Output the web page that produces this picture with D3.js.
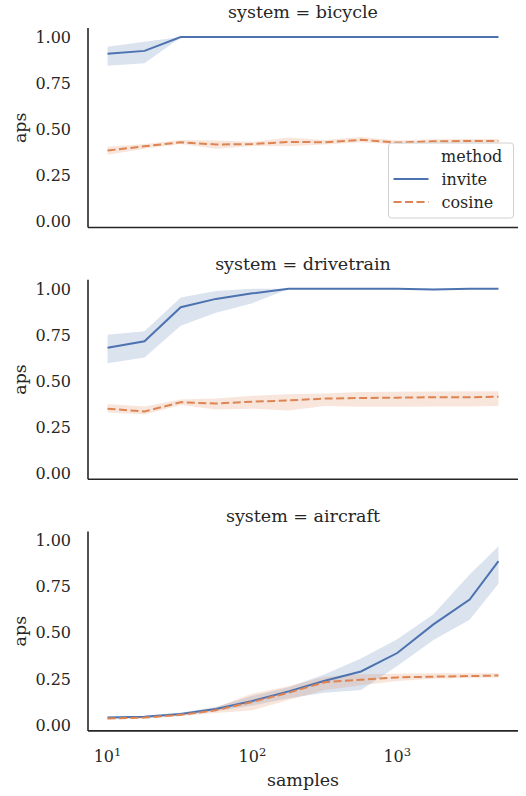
<!DOCTYPE html>
<html>
<head>
<meta charset="utf-8">
<script src="https://cdn.jsdelivr.net/npm/d3@7/dist/d3.min.js"></script>
<style>
  html, body { margin: 0; padding: 0; background: #fff; }
  svg text { font-family: "DejaVu Serif", serif; fill: #262626; }
</style>
</head>
<body>
<div id="chart"></div>
<script>
/* --- data ---------------------------------------------------------------- */
const systems = ['bicycle', 'drivetrain', 'aircraft'];
const methods = ['invite', 'cosine'];
const samples = [10, 18, 32, 56, 100, 178, 316, 562, 1000, 1778, 3162, 5000];

const bicycleInvite   = [0.910, 0.925, 1.000, 1.000, 1.000, 1.000, 1.000, 1.000, 1.000, 1.000, 1.000, 1.000];
const bicycleInviteLo = [0.845, 0.858, 0.998, 0.999, 0.999, 0.999, 0.999, 0.999, 0.999, 0.999, 0.999, 0.999];
const bicycleInviteHi = [0.948, 0.975, 1.000, 1.000, 1.000, 1.000, 1.000, 1.000, 1.000, 1.000, 1.000, 1.000];
const bicycleCosine   = [0.385, 0.408, 0.430, 0.418, 0.420, 0.432, 0.430, 0.443, 0.428, 0.435, 0.437, 0.437];
const bicycleCosineLo = [0.362, 0.395, 0.420, 0.395, 0.410, 0.408, 0.418, 0.430, 0.418, 0.425, 0.427, 0.427];
const bicycleCosineHi = [0.405, 0.420, 0.442, 0.440, 0.432, 0.455, 0.442, 0.458, 0.440, 0.446, 0.448, 0.448];

const drivetrainInvite   = [0.680, 0.715, 0.900, 0.945, 0.975, 1.000, 1.000, 1.000, 1.000, 0.996, 1.000, 1.000];
const drivetrainInviteLo = [0.596, 0.628, 0.800, 0.870, 0.922, 0.998, 0.999, 0.999, 0.999, 0.992, 0.999, 0.999];
const drivetrainInviteHi = [0.751, 0.769, 0.953, 0.988, 1.000, 1.000, 1.000, 1.000, 1.000, 1.000, 1.000, 1.000];
const drivetrainCosine   = [0.350, 0.335, 0.385, 0.378, 0.388, 0.395, 0.405, 0.408, 0.410, 0.412, 0.412, 0.415];
const drivetrainCosineLo = [0.330, 0.318, 0.370, 0.345, 0.350, 0.340, 0.365, 0.360, 0.360, 0.362, 0.362, 0.365];
const drivetrainCosineHi = [0.375, 0.362, 0.400, 0.405, 0.420, 0.428, 0.432, 0.440, 0.442, 0.443, 0.444, 0.445];

const aircraftInvite   = [0.040, 0.045, 0.060, 0.087, 0.130, 0.182, 0.240, 0.290, 0.390, 0.545, 0.680, 0.888];
const aircraftInviteLo = [0.035, 0.040, 0.052, 0.075, 0.105, 0.145, 0.175, 0.190, 0.320, 0.460, 0.570, 0.765];
const aircraftInviteHi = [0.045, 0.050, 0.068, 0.098, 0.158, 0.205, 0.275, 0.360, 0.465, 0.600, 0.815, 0.968];
const aircraftCosine   = [0.035, 0.040, 0.055, 0.080, 0.125, 0.175, 0.232, 0.245, 0.258, 0.262, 0.265, 0.268];
const aircraftCosineLo = [0.030, 0.035, 0.048, 0.065, 0.080, 0.135, 0.190, 0.215, 0.238, 0.250, 0.255, 0.258];
const aircraftCosineHi = [0.040, 0.046, 0.062, 0.095, 0.170, 0.210, 0.262, 0.275, 0.278, 0.280, 0.280, 0.280];

const yTicks = [0, 0.25, 0.5, 0.75, 1.0];
const xTicks = [10, 100, 1000];

const series = {
  bicycle:    { invite: [bicycleInvite, bicycleInviteLo, bicycleInviteHi],
                cosine: [bicycleCosine, bicycleCosineLo, bicycleCosineHi] },
  drivetrain: { invite: [drivetrainInvite, drivetrainInviteLo, drivetrainInviteHi],
                cosine: [drivetrainCosine, drivetrainCosineLo, drivetrainCosineHi] },
  aircraft:   { invite: [aircraftInvite, aircraftInviteLo, aircraftInviteHi],
                cosine: [aircraftCosine, aircraftCosineLo, aircraftCosineHi] }
};

/* --- layout -------------------------------------------------------------- */
const W = 526, H = 796;
const left = 88, right = 518;
const panelTop = [28, 279.7, 531.4];
const panelH = 199.5;
const color = { invite: '#4c72b0', cosine: '#dd8452' };
const dash  = { invite: null, cosine: '8,3.5' };
const ink = '#262626';
const tickSize = 16, labelSize = 17.5;

const svg = d3.select('#chart').append('svg')
  .attr('width', W).attr('height', H);

const x = d3.scaleLog().domain([7.33, 6820]).range([left, right]);

systems.forEach(function (sys, i) {
  const top = panelTop[i];
  const y = d3.scaleLinear().domain([-0.032, 1.049]).range([top + panelH, top]);
  const g = svg.append('g');

  /* bands + lines */
  methods.forEach(function (m) {
    const [mean, lo, hi] = series[sys][m];
    const rows = samples.map(function (s, k) { return { s: s, m: mean[k], lo: lo[k], hi: hi[k] }; });
    g.append('path').datum(rows)
      .attr('fill', color[m]).attr('fill-opacity', 0.2).attr('stroke', 'none')
      .attr('d', d3.area().x(function (d) { return x(d.s); })
        .y0(function (d) { return y(d.lo); }).y1(function (d) { return y(d.hi); }));
  });
  methods.forEach(function (m) {
    const mean = series[sys][m][0];
    const rows = samples.map(function (s, k) { return { s: s, m: mean[k] }; });
    g.append('path').datum(rows)
      .attr('fill', 'none').attr('stroke', color[m]).attr('stroke-width', 2)
      .attr('stroke-dasharray', dash[m])
      .attr('d', d3.line().x(function (d) { return x(d.s); }).y(function (d) { return y(d.m); }));
  });

  /* y axis labels (no tick marks, seaborn white style) */
  g.selectAll('.yt').data(yTicks).join('text')
    .attr('x', 71).attr('y', function (d) { return y(d); })
    .attr('dy', '0.36em').attr('text-anchor', 'end')
    .attr('font-size', tickSize)
    .text(function (d) { return d.toFixed(2); });

  /* spines */
  g.append('line').attr('x1', left).attr('x2', left)
    .attr('y1', top).attr('y2', top + panelH)
    .attr('stroke', ink).attr('stroke-width', 1.6);
  g.append('line').attr('x1', left).attr('x2', right)
    .attr('y1', top + panelH).attr('y2', top + panelH)
    .attr('stroke', ink).attr('stroke-width', 1.6);

  /* title */
  g.append('text').attr('x', (left + right) / 2).attr('y', top - 9.7)
    .attr('text-anchor', 'middle').attr('font-size', labelSize)
    .text('system = ' + sys);

  /* y label */
  g.append('text')
    .attr('transform', 'translate(26,' + (top + panelH / 2) + ') rotate(-90)')
    .attr('text-anchor', 'middle').attr('font-size', labelSize)
    .text('aps');

  /* legend on first facet */
  if (i === 0) {
    const lg = g.append('g').attr('transform', 'translate(388.5,143)');
    lg.append('rect').attr('width', 125).attr('height', 75).attr('rx', 3)
      .attr('fill', '#fff').attr('fill-opacity', 0.8)
      .attr('stroke', '#d0d0d0').attr('stroke-width', 1);
    lg.append('text').attr('x', 52.5).attr('y', 19).attr('font-size', tickSize).text('method');
    methods.forEach(function (m, k) {
      const yy = 36 + k * 23;
      lg.append('line').attr('x1', 5).attr('x2', 40).attr('y1', yy).attr('y2', yy)
        .attr('stroke', color[m]).attr('stroke-width', 2)
        .attr('stroke-dasharray', dash[m]);
      lg.append('text').attr('x', 53).attr('y', yy + 5.5).attr('font-size', tickSize).text(m);
    });
  }

  /* x tick labels on bottom facet only */
  if (i === systems.length - 1) {
    const xt = g.selectAll('.xt').data(xTicks).join('text')
      .attr('x', function (d) { return x(d); }).attr('y', 762)
      .attr('text-anchor', 'middle').attr('font-size', tickSize);
    xt.append('tspan').text('10');
    xt.append('tspan').attr('dy', -6.5).attr('font-size', 11.5)
      .text(function (d) { return String(Math.round(Math.log10(d))); });
    g.append('text').attr('x', (left + right) / 2).attr('y', 786)
      .attr('text-anchor', 'middle').attr('font-size', labelSize)
      .text('samples');
  }
});
</script>
</body>
</html>
